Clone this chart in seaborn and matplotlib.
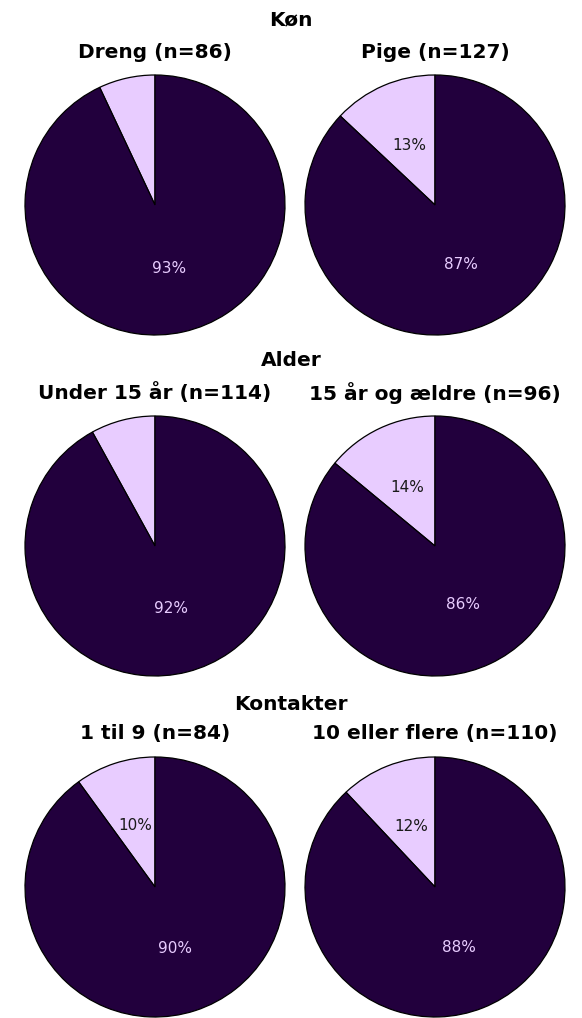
import matplotlib
matplotlib.use("Agg")
import matplotlib.pyplot as plt
import seaborn as sns

# Data: share answering (light = small group, dark = rest), in percent
groups = ["Køn", "Alder", "Kontakter"]
labels = [
    ["Dreng (n=86)", "Pige (n=127)"],
    ["Under 15 år (n=114)", "15 år og ældre (n=96)"],
    ["1 til 9 (n=84)", "10 eller flere (n=110)"],
]
small_share = [[7, 13], [8, 14], [10, 12]]
large_share = [[93, 87], [92, 86], [90, 88]]

sns.set_theme(style="white")
plt.rcParams["font.family"] = ["DejaVu Sans"]

light = "#e8ccff"
dark = "#22003d"
colors = [light, dark]

W, H = 582, 1018
fig = plt.figure(figsize=(W / 100, H / 100), dpi=100)

pie_centers_x = [155, 435]
pie_centers_y = [205, 546, 887]
group_title_y = [20, 361, 705]
sub_title_y = [52, 393, 734]
R = 130


def pct_label(p):
    return f"{p:.0f}%" if p >= 9.5 else ""


for row, group in enumerate(groups):
    fig.text(0.5, 1 - group_title_y[row] / H, group, ha="center", va="center",
             fontsize=14.5, fontweight="bold", color="black")
    for col in range(2):
        cx, cy = pie_centers_x[col], pie_centers_y[row]
        pad = 2
        ax = fig.add_axes([(cx - R - pad) / W, 1 - (cy + R + pad) / H,
                           (2 * R + 2 * pad) / W, (2 * R + 2 * pad) / H])
        vals = [small_share[row][col], large_share[row][col]]
        wedges, texts, autotexts = ax.pie(
            vals, colors=colors, startangle=90, counterclock=True,
            autopct=pct_label, pctdistance=0.5,
            wedgeprops=dict(edgecolor="black", linewidth=0.9),
            textprops=dict(fontsize=11),
        )
        autotexts[0].set_color("#1a1a1a")
        autotexts[1].set_color(light)
        lim = 1 + pad / R
        ax.set_xlim(-lim, lim)
        ax.set_ylim(-lim, lim)
        ax.set_aspect("equal")
        ax.axis("off")
        fig.text(cx / W, 1 - sub_title_y[row] / H, labels[row][col],
                 ha="center", va="center", fontsize=14.5, fontweight="bold",
                 color="black")

fig.savefig("out.png", dpi=100, facecolor="white")
